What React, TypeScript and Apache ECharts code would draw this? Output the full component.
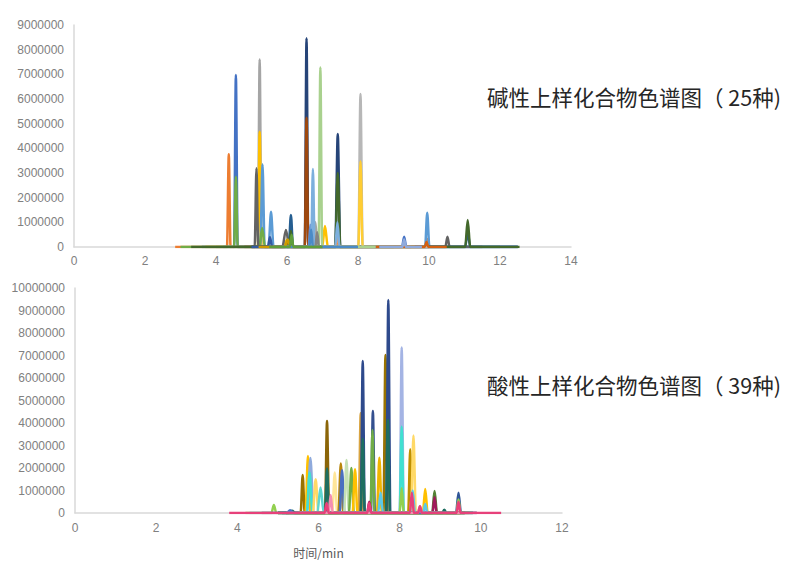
import React, { useEffect, useRef } from "react";
import * as echarts from "echarts";

// ---------- Basic (top) chromatogram: 25 compounds ----------
const basicColors = [
  "#ED7D31", "#4472C4", "#A5A5A5", "#FFC000", "#5B9BD5", "#70AD47", "#264478", "#9E480E",
  "#636363", "#997300", "#255E91", "#43682B", "#698ED0", "#F1975A", "#B7B7B7", "#FFCD33",
  "#7CAFDD", "#A9D18E", "#335AA1", "#D26012", "#848484", "#CC9A00", "#4A8BC7", "#5E9E3A", "#8FAADC",
];
const basicStart = [2.85, 3.6, 4.0, 3.7, 4.2, 3.0, 5.0, 4.8, 4.5, 5.0, 5.0, 3.3, 5.5, 5.5, 7.0, 7.0, 5.5, 6.0, 5.0, 8.5, 6.0, 5.2, 6.0, 5.5, 8.6];
const basicEnd = [9.0, 12.5, 11.0, 9.5, 12.5, 12.0, 12.5, 10.0, 11.5, 9.0, 12.5, 12.55, 9.0, 10.0, 10.0, 9.6, 9.5, 8.5, 7.0, 10.5, 8.0, 7.0, 8.0, 7.0, 9.8];
// peaks: [retention time (min), intensity, half base width (min)]
const basicPeaks: number[][][] = [
  [[4.36, 3760000, 0.05], [7.42, 300000, 0.06], [9.95, 320000, 0.05]],
  [[4.56, 6970000, 0.05], [9.3, 420000, 0.06]],
  [[5.23, 7600000, 0.05], [6.8, 1000000, 0.06]],
  [[5.23, 4670000, 0.05], [6.0, 280000, 0.1], [7.07, 850000, 0.08]],
  [[5.31, 3350000, 0.06], [5.55, 1430000, 0.07], [9.95, 1390000, 0.06]],
  [[4.56, 2850000, 0.05], [5.3, 770000, 0.08]],
  [[6.55, 8460000, 0.05], [7.43, 4580000, 0.07]],
  [[6.55, 5240000, 0.05]],
  [[5.14, 3190000, 0.05], [5.97, 690000, 0.1], [10.52, 420000, 0.06]],
  [[6.02, 200000, 0.08]],
  [[6.11, 1300000, 0.06], [11.09, 620000, 0.07]],
  [[6.11, 650000, 0.05], [7.43, 3000000, 0.07], [11.09, 1090000, 0.07]],
  [[6.66, 900000, 0.05]],
  [[6.75, 820000, 0.06], [7.42, 500000, 0.06]],
  [[8.07, 6200000, 0.06]],
  [[8.07, 3480000, 0.06]],
  [[6.73, 3160000, 0.05], [7.42, 1000000, 0.06]],
  [[6.94, 7280000, 0.05]],
  [[5.52, 400000, 0.06]],
  [[9.93, 200000, 0.05]],
  [[6.85, 600000, 0.05]],
  [[6.02, 300000, 0.08]],
  [[6.68, 700000, 0.05]],
  [[6.13, 500000, 0.05]],
  [[9.3, 300000, 0.05]],
];

// ---------- Acidic (bottom) chromatogram: 39 compounds ----------
const acidColors = [
  "#997300", "#2E4A8C", "#1E6E60", "#A4B4E4", "#40E0D0", "#D9A441", "#2E4A8C", "#1E6E60",
  "#34508F", "#70AD47", "#F0B400", "#8B6508", "#1E6E60", "#BF9000", "#FFD966", "#997300",
  "#FFC000", "#8FAADC", "#40E0D0", "#FFD966", "#5FD6D0", "#FFE699", "#B8860B", "#4A6FC0",
  "#C5E0B4", "#70AD47", "#FFC000", "#92D050", "#FFC000", "#548235", "#A0195A", "#2F5597",
  "#92D050", "#5BC8E8", "#1E6E60", "#F4B183", "#4472C4", "#F48FB1", "#E7407A",
];
const acidStart = [5.2, 5.0, 5.2, 5.5, 5.5, 5.0, 5.1, 5.2, 5.3, 5.2, 5.4, 5.0, 5.1, 5.6, 5.5, 5.0, 5.0, 5.1, 5.0, 5.2, 5.0, 5.3, 5.4, 5.1, 5.3, 5.4, 5.5, 4.2, 5.8, 5.9, 4.6, 5.2, 5.0, 4.3, 5.0, 5.5, 5.0, 5.2, 3.8];
const acidEnd = [9.6, 9.8, 9.6, 9.8, 9.6, 9.5, 9.6, 9.5, 9.6, 9.5, 9.6, 9.4, 9.5, 9.6, 9.7, 9.2, 9.3, 9.4, 9.3, 9.2, 9.4, 9.3, 9.4, 9.5, 9.3, 9.4, 9.5, 9.0, 9.7, 9.8, 9.9, 9.9, 9.8, 9.8, 9.6, 9.5, 9.4, 9.6, 10.5];
const acidPeaks: number[][][] = [
  [[7.65, 7020000, 0.05]],
  [[7.72, 9470000, 0.05]],
  [[7.71, 4130000, 0.05]],
  [[8.05, 7360000, 0.05]],
  [[8.05, 3840000, 0.05]],
  [[7.04, 4430000, 0.05]],
  [[7.09, 6760000, 0.05]],
  [[7.09, 3300000, 0.05]],
  [[7.34, 4530000, 0.05]],
  [[7.33, 3690000, 0.05]],
  [[7.5, 2460000, 0.06]],
  [[6.21, 4090000, 0.05]],
  [[6.21, 1980000, 0.05]],
  [[8.26, 2830000, 0.05]],
  [[8.34, 3440000, 0.06]],
  [[5.61, 1690000, 0.05]],
  [[5.74, 2530000, 0.06]],
  [[5.8, 2440000, 0.08]],
  [[5.78, 1800000, 0.07]],
  [[5.93, 1500000, 0.07]],
  [[6.05, 1130000, 0.08]],
  [[6.4, 1800000, 0.06]],
  [[6.55, 2200000, 0.06]],
  [[6.58, 1900000, 0.06]],
  [[6.69, 2360000, 0.06]],
  [[6.81, 2000000, 0.06]],
  [[6.9, 1950000, 0.06]],
  [[4.9, 360000, 0.06]],
  [[8.63, 1070000, 0.06]],
  [[8.86, 980000, 0.06]],
  [[6.2, 400000, 0.05], [7.25, 500000, 0.05], [8.86, 700000, 0.05]],
  [[9.45, 900000, 0.06]],
  [[8.05, 1100000, 0.05], [9.45, 600000, 0.05]],
  [[7.53, 900000, 0.06], [8.32, 1000000, 0.06], [8.63, 400000, 0.05]],
  [[5.35, 100000, 0.08], [9.1, 150000, 0.05]],
  [[8.3, 800000, 0.05]],
  [[5.3, 120000, 0.08]],
  [[6.3, 800000, 0.05], [8.5, 300000, 0.05]],
  [[6.2, 450000, 0.05], [7.25, 450000, 0.05], [8.3, 900000, 0.05], [8.5, 300000, 0.05], [9.45, 500000, 0.05]],
];

const basicTitle = "碱性上样化合物色谱图（ 25种)";
const acidTitle = "酸性上样化合物色谱图（ 39种)";
const xAxisName = "时间/min";

function trace(start: number, end: number, peaks: number[][]): number[][] {
  const pts: number[][] = [[start, 0]];
  peaks.forEach(([rt, h, hw]) => {
    pts.push([rt - hw, 0], [rt, h], [rt + hw, 0]);
  });
  pts.push([end, 0]);
  return pts;
}

const labelStyle = { color: "#808080", fontSize: 12, fontFamily: "Liberation Sans", formatter: (v: number) => String(v) };
const axisLineStyle = { show: true, lineStyle: { color: "#D9D9D9", width: 1.5 } };

export default function App() {
  const ref = useRef<HTMLDivElement>(null);
  useEffect(() => {
    if (!ref.current) return;
    const chart = echarts.init(ref.current, undefined, { renderer: "svg" });
    const series: any[] = [];
    basicPeaks.forEach((p, i) => {
      series.push({
        type: "line", xAxisIndex: 0, yAxisIndex: 0, showSymbol: false, smooth: 0.3, smoothMonotone: "x",
        lineStyle: { width: 2.5, color: basicColors[i] }, itemStyle: { color: basicColors[i] },
        data: trace(basicStart[i], basicEnd[i], p),
      });
    });
    acidPeaks.forEach((p, i) => {
      series.push({
        type: "line", xAxisIndex: 1, yAxisIndex: 1, showSymbol: false, smooth: 0.3, smoothMonotone: "x",
        lineStyle: { width: 2.5, color: acidColors[i] }, itemStyle: { color: acidColors[i] },
        data: trace(acidStart[i], acidEnd[i], p),
      });
    });
    chart.setOption({
      animation: false,
      backgroundColor: "#ffffff",
      grid: [
        { left: 74, top: 25, width: 497, height: 222 },
        { left: 75, top: 288, width: 487, height: 225 },
      ],
      xAxis: [
        {
          type: "value", gridIndex: 0, min: 0, max: 14, interval: 2,
          axisLine: axisLineStyle, axisTick: { show: false }, splitLine: { show: false },
          axisLabel: { ...labelStyle, margin: 8 },
        },
        {
          type: "value", gridIndex: 1, min: 0, max: 12, interval: 2,
          axisLine: axisLineStyle, axisTick: { show: false }, splitLine: { show: false },
          axisLabel: { ...labelStyle, margin: 9 },
          name: xAxisName, nameLocation: "middle", nameGap: 33,
          nameTextStyle: { color: "#595959", fontSize: 12, fontFamily: "Noto Sans CJK SC" },
        },
      ],
      yAxis: [
        {
          type: "value", gridIndex: 0, min: 0, max: 9000000, interval: 1000000,
          axisLine: axisLineStyle, axisTick: { show: false }, splitLine: { show: false },
          axisLabel: { ...labelStyle, margin: 10 },
        },
        {
          type: "value", gridIndex: 1, min: 0, max: 10000000, interval: 1000000,
          axisLine: axisLineStyle, axisTick: { show: false }, splitLine: { show: false },
          axisLabel: { ...labelStyle, margin: 10 },
        },
      ],
      graphic: [
        {
          type: "text", x: 487, y: 96,
          style: { text: basicTitle, fill: "#262626", fontSize: 21.5, fontFamily: "Noto Sans CJK SC", verticalAlign: "middle" },
        },
        {
          type: "text", x: 487, y: 384,
          style: { text: acidTitle, fill: "#262626", fontSize: 21.5, fontFamily: "Noto Sans CJK SC", verticalAlign: "middle" },
        },
      ],
      series,
    });
    return () => chart.dispose();
  }, []);
  return <div ref={ref} style={{ position: "absolute", left: 0, top: 0, width: 806, height: 569 }} />;
}
